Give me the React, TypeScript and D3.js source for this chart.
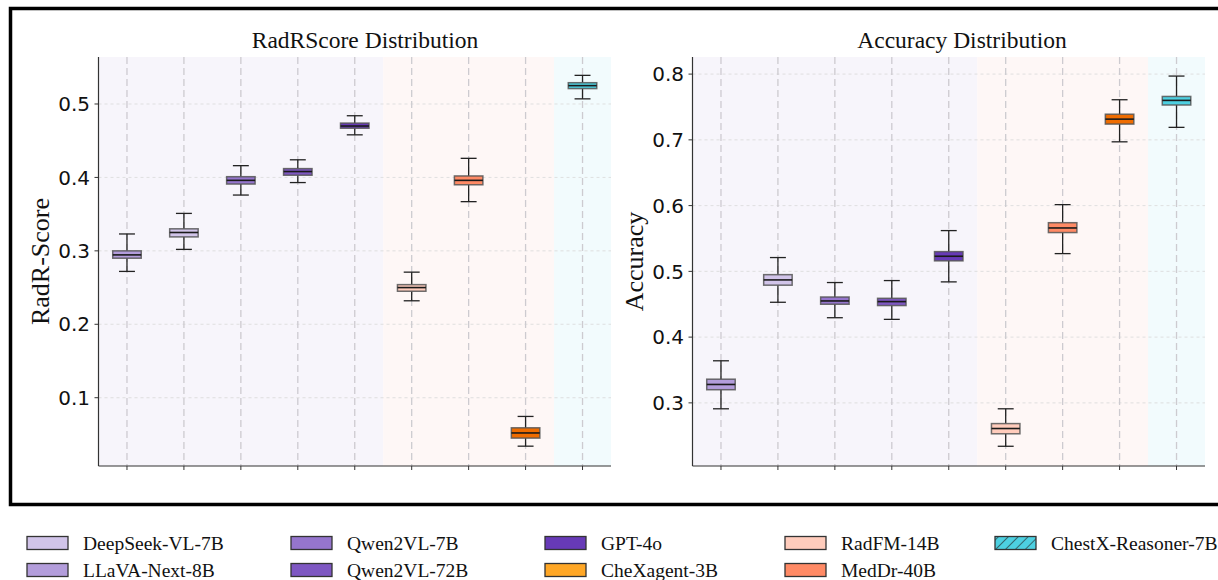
import React from 'react';
import * as d3 from 'd3';

// models in the order they appear on the x axis
const MODELS = [
  'LLaVA-Next-8B', 'DeepSeek-VL-7B', 'Qwen2VL-7B', 'Qwen2VL-72B', 'GPT-4o',
  'RadFM-14B', 'MedDr-40B', 'CheXagent-3B', 'ChestX-Reasoner-7B',
];
const BOX_COLORS = ['#b39ddb', '#d1c4e9', '#9575cd', '#7e57c2', '#673ab7', '#ffccbc', '#ff8a65', '#ef6c00', '#4dd0e1'];

// legend (column-major, 2 rows)
const LEGEND_MODELS = [
  'DeepSeek-VL-7B', 'LLaVA-Next-8B', 'Qwen2VL-7B', 'Qwen2VL-72B', 'GPT-4o',
  'CheXagent-3B', 'RadFM-14B', 'MedDr-40B', 'ChestX-Reasoner-7B',
];
const LEGEND_COLORS = ['#d1c4e9', '#b39ddb', '#9575cd', '#7e57c2', '#673ab7', '#ffa726', '#ffccbc', '#ff8a65', '#4dd0e1'];

// background groups: [first index, last index] (1-based positions)
const GROUPS = [[1, 5], [6, 8], [9, 9]];
const GROUP_COLORS = ['#f7f5fb', '#fef7f6', '#f2fbfd'];

// RadRScore box stats
const RADR_LOW = [0.272, 0.302, 0.376, 0.393, 0.458, 0.232, 0.367, 0.034, 0.507];
const RADR_Q1 = [0.290, 0.319, 0.391, 0.403, 0.467, 0.245, 0.390, 0.045, 0.521];
const RADR_MED = [0.2945, 0.325, 0.396, 0.408, 0.470, 0.250, 0.396, 0.052, 0.525];
const RADR_Q3 = [0.300, 0.330, 0.401, 0.412, 0.474, 0.254, 0.402, 0.059, 0.529];
const RADR_HIGH = [0.323, 0.351, 0.416, 0.424, 0.484, 0.271, 0.426, 0.0745, 0.539];
const RADR_TICKS = [0.1, 0.2, 0.3, 0.4, 0.5];

// Accuracy box stats
const ACC_LOW = [0.291, 0.453, 0.4295, 0.427, 0.484, 0.234, 0.527, 0.697, 0.719];
const ACC_Q1 = [0.320, 0.479, 0.450, 0.448, 0.516, 0.253, 0.559, 0.724, 0.753];
const ACC_MED = [0.328, 0.487, 0.455, 0.454, 0.523, 0.261, 0.566, 0.7315, 0.760];
const ACC_Q3 = [0.336, 0.495, 0.461, 0.459, 0.530, 0.2685, 0.574, 0.739, 0.766];
const ACC_HIGH = [0.364, 0.521, 0.483, 0.486, 0.562, 0.291, 0.6015, 0.761, 0.797];
const ACC_TICKS = [0.3, 0.4, 0.5, 0.6, 0.7, 0.8];

const SERIF = '"Liberation Serif", "Times New Roman", serif';
const SANS = '"DejaVu Sans", sans-serif';

const TOP = 57;
const BOTTOM = 466;

const Panel = ({ left, right, title, titleX, ylabel, domain, ticks, low, q1, med, q3, high }) => {
  const x = d3.scaleLinear().domain([0.5, MODELS.length + 0.5]).range([left, right]);
  const y = d3.scaleLinear().domain(domain).range([BOTTOM, TOP]);
  const boxW = x(1.25) - x(1);
  const capW = x(1.14) - x(1);
  const positions = d3.range(1, MODELS.length + 1);

  return (
    <g>
      {GROUPS.map(([a, b], i) => (
        <rect key={'g' + i} x={x(a - 0.5)} y={TOP} width={x(b + 0.5) - x(a - 0.5)} height={BOTTOM - TOP} fill={GROUP_COLORS[i]} />
      ))}
      {ticks.map(t => (
        <line key={'hg' + t} x1={left} x2={right} y1={y(t)} y2={y(t)} stroke="#dcdcdc" strokeWidth={0.9} strokeDasharray="3,3" />
      ))}
      {positions.map(p => (
        <line key={'vg' + p} x1={x(p)} x2={x(p)} y1={TOP} y2={BOTTOM} stroke="#cdcbd0" strokeWidth={1.3} strokeDasharray="7,4" />
      ))}
      {MODELS.map((m, i) => {
        const cx = x(i + 1);
        return (
          <g key={m}>
            <line x1={cx} x2={cx} y1={y(high[i])} y2={y(q3[i])} stroke="#222" strokeWidth={1.3} />
            <line x1={cx} x2={cx} y1={y(q1[i])} y2={y(low[i])} stroke="#222" strokeWidth={1.3} />
            <line x1={cx - capW} x2={cx + capW} y1={y(high[i])} y2={y(high[i])} stroke="#222" strokeWidth={1.3} />
            <line x1={cx - capW} x2={cx + capW} y1={y(low[i])} y2={y(low[i])} stroke="#222" strokeWidth={1.3} />
            <rect x={cx - boxW} y={y(q3[i])} width={boxW * 2} height={y(q1[i]) - y(q3[i])}
              fill={BOX_COLORS[i]} stroke="#555" strokeOpacity={0.85} strokeWidth={1.5} />
            <line x1={cx - boxW} x2={cx + boxW} y1={y(med[i])} y2={y(med[i])} stroke="#1a1a1a" strokeWidth={1.6} />
          </g>
        );
      })}
      <line x1={left} x2={left} y1={TOP} y2={BOTTOM} stroke="#333" strokeWidth={1.2} />
      <line x1={left} x2={right} y1={BOTTOM} y2={BOTTOM} stroke="#333" strokeWidth={1.2} />
      {ticks.map(t => (
        <g key={'yt' + t}>
          <line x1={left - 4} x2={left} y1={y(t)} y2={y(t)} stroke="#333" strokeWidth={1} />
          <text x={left - 8.5} y={y(t)} dy="0.36em" textAnchor="end" fontFamily={SANS} fontSize={20} fill="#111">
            {d3.format('.1f')(t)}
          </text>
        </g>
      ))}
      {positions.map(p => (
        <line key={'xt' + p} x1={x(p)} x2={x(p)} y1={BOTTOM} y2={BOTTOM + 4} stroke="#333" strokeWidth={1} />
      ))}
      <text x={titleX} y={48} textAnchor="middle" fontFamily={SERIF} fontSize={23.5} fill="#111">{title}</text>
      <text transform={`translate(${left - 50},${(TOP + BOTTOM) / 2}) rotate(-90)`} textAnchor="middle"
        fontFamily={SERIF} fontSize={26} fill="#111">{ylabel}</text>
    </g>
  );
};

const LEGEND_TEXT_X = [83, 347, 601, 841, 1051];
const LEGEND_ROW_Y = [550, 577];

const Legend = () => (
  <g>
    <defs>
      <pattern id="hatch" patternUnits="userSpaceOnUse" width="7" height="7" patternTransform="rotate(45)">
        <rect width="7" height="7" fill="#4dd0e1" />
        <line x1="0" y1="0" x2="0" y2="7" stroke="#222" strokeWidth="1.2" />
      </pattern>
    </defs>
    {LEGEND_MODELS.map((m, i) => {
      const col = Math.floor(i / 2);
      const row = i % 2;
      const tx = LEGEND_TEXT_X[col];
      const by = LEGEND_ROW_Y[row];
      const hatched = m === 'ChestX-Reasoner-7B';
      return (
        <g key={m}>
          <rect x={tx - 56} y={by - 13.5} width={41} height={13} fill={hatched ? 'url(#hatch)' : LEGEND_COLORS[i]}
            stroke="#333" strokeWidth={1.3} />
          <text x={tx} y={by} fontFamily={SERIF} fontSize={19.5} fill="#111">{m}</text>
        </g>
      );
    })}
  </g>
);

export default function App() {
  return (
    <svg width={1218} height={580} style={{ position: 'absolute', left: 0, top: 0, background: '#fff' }}>
      <rect x={0} y={0} width={1218} height={580} fill="#fff" />
      <Panel left={98.5} right={611} title="RadRScore Distribution" titleX={365} ylabel="RadR-Score"
        domain={[0.007, 0.564]} ticks={RADR_TICKS}
        low={RADR_LOW} q1={RADR_Q1} med={RADR_MED} q3={RADR_Q3} high={RADR_HIGH} />
      <Panel left={692.5} right={1205} title="Accuracy Distribution" titleX={962} ylabel="Accuracy"
        domain={[0.204, 0.826]} ticks={ACC_TICKS}
        low={ACC_LOW} q1={ACC_Q1} med={ACC_MED} q3={ACC_Q3} high={ACC_HIGH} />
      <rect x={10.5} y={8.5} width={1240} height={496} fill="none" stroke="#000" strokeWidth={3.5} />
      <Legend />
    </svg>
  );
}
